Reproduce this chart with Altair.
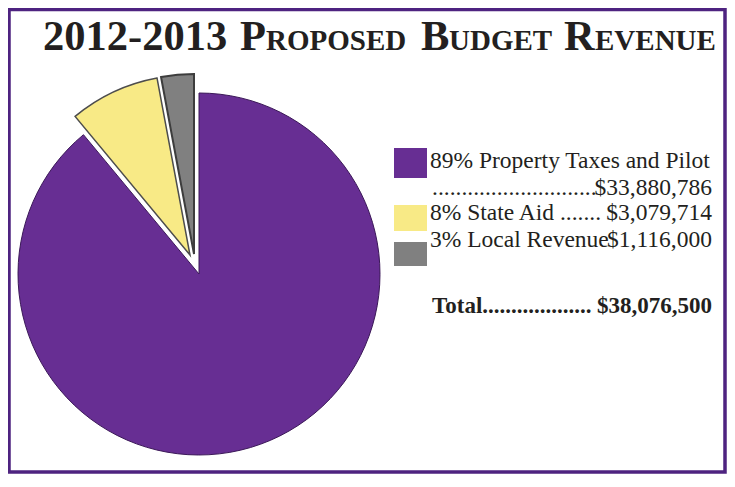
import altair as alt
import pandas as pd

# ---- data ----
categories = ["Property Taxes and Pilot", "State Aid", "Local Revenue"]
percents = [89, 8, 3]
values = [33880786, 3079714, 1116000]
amounts = ["$33,880,786", "$3,079,714", "$1,116,000"]
total_text = "$38,076,500"
colors = ["#672e93", "#f8ea86", "#808080"]

title_big = ["2012-2013", "P", "B", "R"]
title_small = ["ROPOSED", "UDGET", "EVENUE"]

total = sum(values)
df = pd.DataFrame({"category": categories, "pct": percents, "value": values, "amount": amounts})
df["label"] = df["pct"].astype(str) + "% " + df["category"]

W, H = 719, 466
FONT = "Liberation Serif"
INK = "#231f20"
FRAME = "#4e2380"

color_scale = alt.Scale(domain=categories, range=colors)
theta_scale = alt.Scale(domain=[0, total])

base = (
    alt.Chart(df)
    .transform_window(cum="sum(value)", frame=[None, 0])
    .transform_calculate(start="datum.cum - datum.value")
)


def slice_layer(cat, cx, cy, r, stroke, sw):
    return (
        base.transform_filter(alt.datum.category == cat)
        .mark_arc(radius=r, stroke=stroke, strokeWidth=sw)
        .encode(
            theta=alt.Theta("start:Q", scale=theta_scale),
            theta2="cum:Q",
            color=alt.Color("category:N", scale=color_scale, legend=None),
            x=alt.value(cx),
            y=alt.value(cy),
        )
    )


layers = []

# frame
frame_df = pd.DataFrame({"k": [0]})
layers.append(
    alt.Chart(frame_df)
    .mark_rect(fillOpacity=0, stroke=FRAME, strokeWidth=3.5)
    .encode(x=alt.value(1), x2=alt.value(717), y=alt.value(1.5), y2=alt.value(464))
)

# pie slices (exploded yellow and gray)
layers.append(slice_layer(categories[0], 191, 266, 181, "#3b1858", 1))
layers.append(slice_layer(categories[1], 182, 247, 180, "#4d4d4d", 1.5))
layers.append(slice_layer(categories[2], 186, 246, 180, "#3d3d3d", 2))

# title with simulated small caps
title_pos_big = [35, 232, 413, 556]
title_pos_small = [258, 441, 587]
for txt, xp in zip(title_big, title_pos_big):
    layers.append(
        alt.Chart(frame_df)
        .mark_text(text=txt, align="left", baseline="alphabetic", font=FONT,
                   fontWeight="bold", fontSize=42.5, color=INK)
        .encode(x=alt.value(xp), y=alt.value(42))
    )
for txt, xp in zip(title_small, title_pos_small):
    layers.append(
        alt.Chart(frame_df)
        .mark_text(text=txt, align="left", baseline="alphabetic", font=FONT,
                   fontWeight="bold", fontSize=29, color=INK)
        .encode(x=alt.value(xp), y=alt.value(42))
    )

# legend squares
sq = {categories[0]: (140, 170), categories[1]: (197, 223), categories[2]: (234, 258)}
for cat in categories:
    y1, y2 = sq[cat]
    layers.append(
        alt.Chart(df)
        .transform_filter(alt.datum.category == cat)
        .mark_rect()
        .encode(
            x=alt.value(386), x2=alt.value(419), y=alt.value(y1), y2=alt.value(y2),
            color=alt.Color("category:N", scale=color_scale, legend=None),
        )
    )


def text_layer(cat, field, x, y, align, dots_after="", size=23.5, weight="normal"):
    expr = f"datum.{field} + '{dots_after}'"
    return (
        alt.Chart(df)
        .transform_filter(alt.datum.category == cat)
        .transform_calculate(t=expr)
        .mark_text(align=align, baseline="alphabetic", font=FONT, fontSize=size,
                   fontWeight=weight, color=INK)
        .encode(text="t:N", x=alt.value(x), y=alt.value(y))
    )


RX = 704
LX = 422
# line 1 + 2
layers.append(text_layer(categories[0], "label", LX, 160, "left"))
layers.append(
    alt.Chart(frame_df)
    .mark_text(text="." * 28, align="left", baseline="alphabetic", font=FONT,
               fontSize=23.5, color=INK)
    .encode(x=alt.value(424), y=alt.value(187))
)
layers.append(text_layer(categories[0], "amount", RX, 187, "right"))
# line 3
layers.append(text_layer(categories[1], "label", LX, 212, "left", dots_after=" ......."))
layers.append(text_layer(categories[1], "amount", RX, 212, "right"))
# line 4
layers.append(text_layer(categories[2], "label", LX, 239, "left"))
layers.append(text_layer(categories[2], "amount", RX, 239, "right"))

# total
layers.append(
    alt.Chart(frame_df)
    .mark_text(text="Total" + "." * 19, align="left", baseline="alphabetic", font=FONT,
               fontSize=23, fontWeight="bold", color=INK)
    .encode(x=alt.value(424), y=alt.value(305))
)
layers.append(
    alt.Chart(frame_df)
    .mark_text(text=total_text, align="right", baseline="alphabetic", font=FONT,
               fontSize=23, fontWeight="bold", color=INK)
    .encode(x=alt.value(RX), y=alt.value(305))
)

chart = (
    alt.layer(*layers)
    .properties(width=W, height=H, padding=0, autosize=alt.AutoSizeParams(type="none"),
                background="white")
    .configure_view(stroke=None)
)

chart.save("out.html", embed_options={"renderer": "svg", "actions": False})
